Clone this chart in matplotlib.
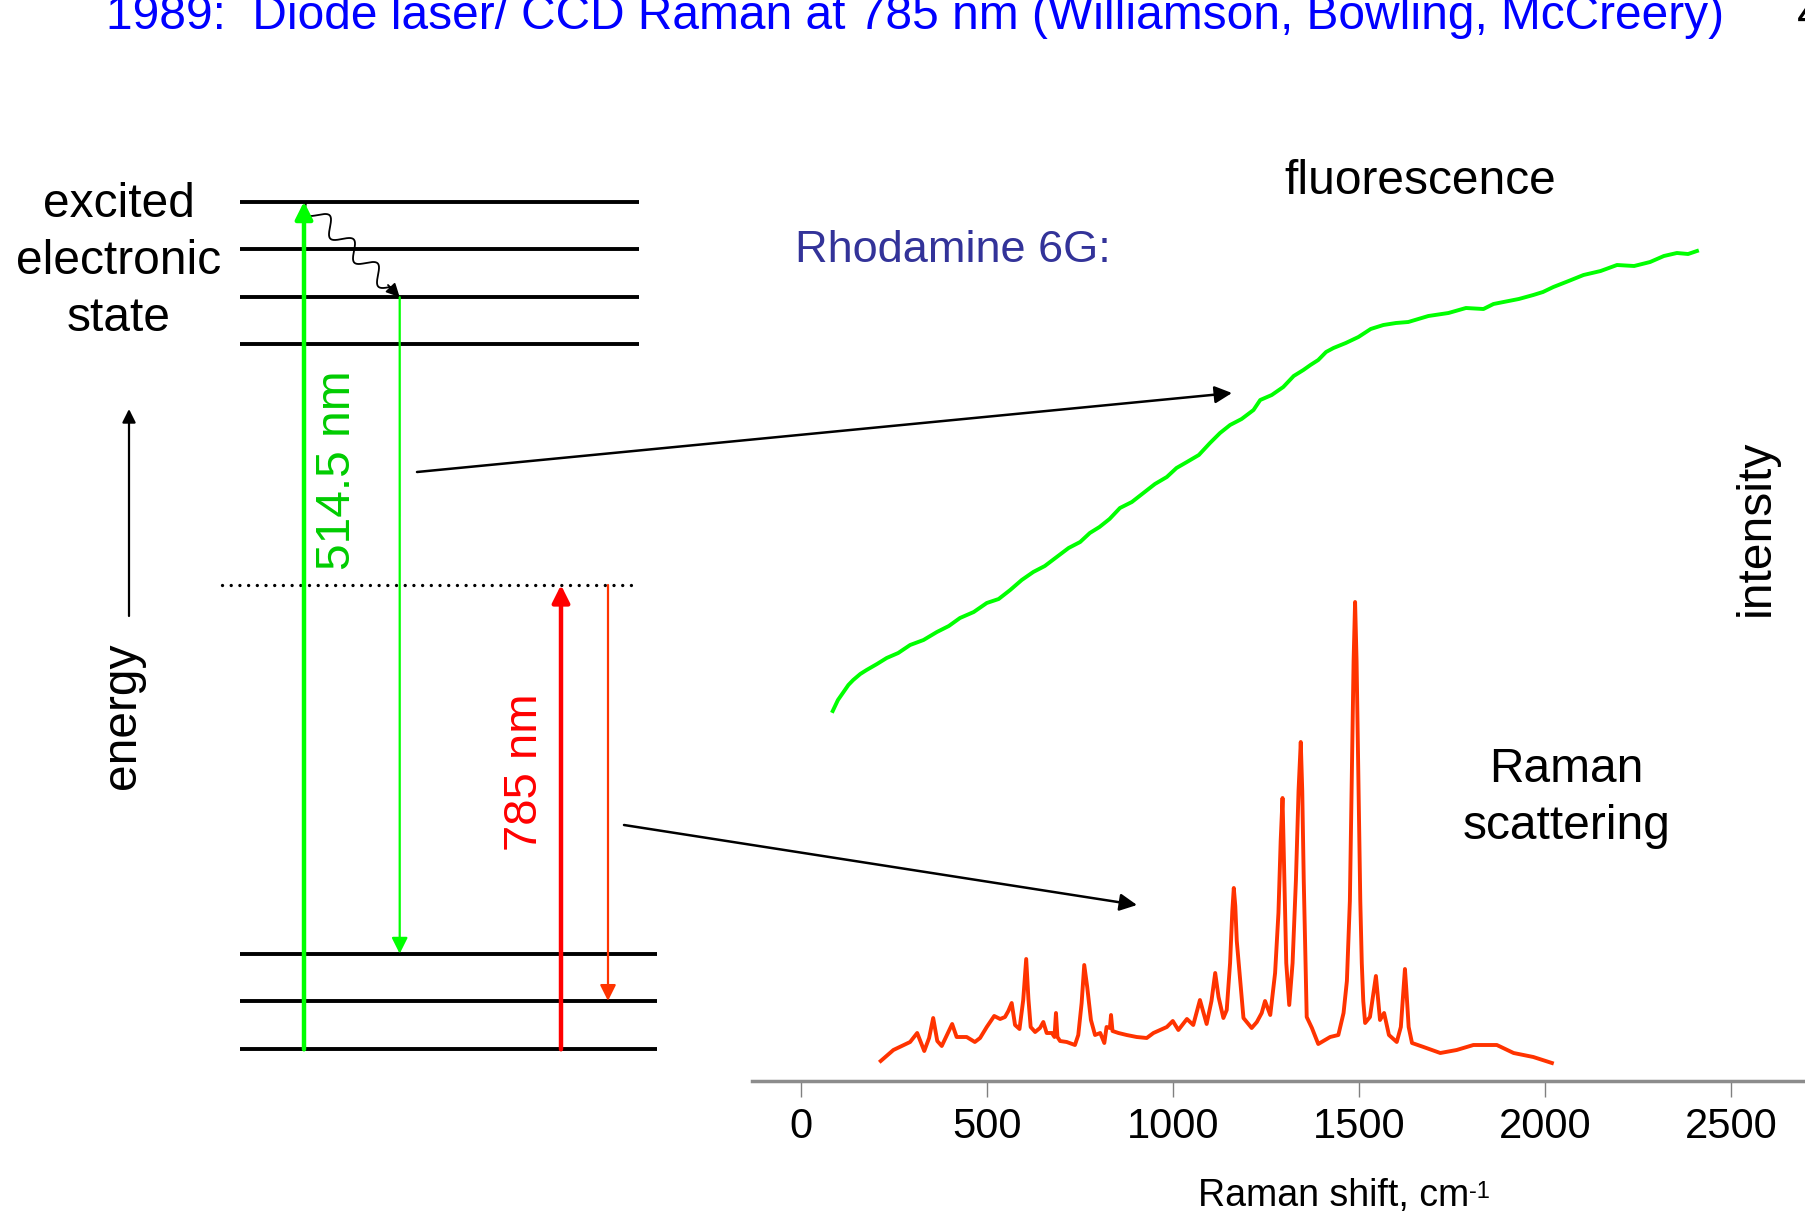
import numpy as np
import matplotlib.pyplot as plt

plt.rcParams['font.family'] = ['Liberation Sans', 'DejaVu Sans']

# Rhodamine 6G, Raman spectrum with 785 nm excitation
raman_shift = [215, 249, 294, 313, 332, 345, 356, 367, 379, 407, 419, 446, 468, 482,
               500, 520, 536, 549, 558, 567, 576, 588, 598, 606, 612, 618, 630, 643,
               652, 661, 675, 682, 686, 690, 697, 715, 737, 746, 755, 762, 770, 780,
               791, 805, 816, 822, 831, 834, 838, 854, 876, 903, 930, 948, 984, 1000,
               1015, 1038, 1055, 1073, 1091, 1104, 1114, 1123, 1136, 1145, 1154, 1160,
               1164, 1168, 1172, 1181, 1190, 1212, 1226, 1239, 1248, 1262, 1275, 1284,
               1290, 1295, 1300, 1305, 1313, 1322, 1331, 1338, 1344, 1348, 1352, 1360,
               1374, 1391, 1423, 1445, 1459, 1468, 1476, 1481, 1486, 1490, 1494, 1499,
               1504, 1508, 1512, 1517, 1530, 1546, 1557, 1568, 1581, 1602, 1613, 1620,
               1624, 1628, 1634, 1643, 1674, 1719, 1763, 1808, 1871, 1916, 1969, 2019]
raman_int = [20, 31, 39, 48, 30, 43, 63, 40, 35, 57, 44, 44, 39, 43,
             54, 65, 62, 64, 70, 78, 56, 52, 81, 122, 82, 54, 49, 53,
             59, 48, 48, 44, 68, 44, 40, 39, 36, 46, 78, 116, 94, 61,
             46, 48, 38, 54, 53, 66, 50, 48, 46, 44, 43, 48, 54, 60,
             51, 62, 56, 81, 57, 80, 108, 84, 63, 71, 118, 170,
             193, 175, 140, 101, 63, 53, 59, 68, 80, 66, 108, 168,
             240, 283, 200, 118, 76, 118, 201, 290, 339, 290, 201, 64,
             53, 37, 44, 46, 68, 100, 180, 301, 420, 479, 420, 301,
             180, 118, 80, 58, 64, 105, 61, 68, 46, 39, 54, 90,
             112, 90, 54, 38, 34, 28, 31, 36, 36, 28, 24, 18]

# fluorescence background with 514.5 nm excitation
fluor_shift = [86, 100, 115, 128, 141, 160, 177, 205, 231, 262, 294, 330, 366, 398,
               428, 465, 500, 532, 563, 594, 625, 656, 688, 720, 751, 777, 803, 830,
               858, 890, 921, 952, 984, 1010, 1038, 1070, 1100, 1127, 1154, 1185, 1217,
               1235, 1266, 1297, 1325, 1351, 1370, 1391, 1412, 1432, 1465, 1499, 1532,
               1566, 1600, 1633, 1687, 1741, 1788, 1835, 1862, 1889, 1930, 1969, 1995,
               2023, 2064, 2104, 2150, 2194, 2240, 2283, 2320, 2355, 2385, 2409]
fluor_int = [370, 381, 389, 396, 401, 407, 411, 417, 423, 428, 436, 441, 449, 455,
             463, 469, 478, 482, 491, 501, 509, 515, 524, 533, 539, 548, 554, 562,
             573, 579, 588, 597, 604, 613, 619, 626, 638, 648, 656, 662, 671,
             681, 686, 694, 705, 711, 716, 721, 729, 733, 738, 744, 752,
             756, 758, 759, 765, 768, 773, 772, 777, 779, 782, 786, 789,
             794, 800, 806, 810, 816, 815, 819, 825, 828, 827, 830]

tick_values = [0, 500, 1000, 1500, 2000, 2500]

W, H = 1806, 1213
fig = plt.figure(figsize=(W / 100, H / 100), dpi=100)

# spectrum panel
ax = fig.add_axes([752 / W, 132 / H, 1 - 752 / W, 900 / H])
ax.plot(fluor_shift, fluor_int, color='#00ff00', lw=2.8)
ax.plot(raman_shift, raman_int, color='#ff3300', lw=2.8)
ax.set_xlim(-131, 2702)
ax.set_ylim(0, 900)
for s in ['top', 'right', 'left']:
    ax.spines[s].set_visible(False)
ax.spines['bottom'].set_color('#8c8c8c')
ax.spines['bottom'].set_linewidth(2.5)
ax.set_yticks([])
ax.set_xticks(tick_values)
ax.tick_params(axis='x', direction='out', length=11.5, width=1, color='#808080',
               labelsize=30, pad=7.5)
ax.patch.set_alpha(0)

# overlay in pixel coordinates for the energy diagram and labels
ax0 = fig.add_axes([0, 0, 1, 1])
ax0.set_xlim(0, W)
ax0.set_ylim(H, 0)
ax0.axis('off')

fs = 34.5

ax0.text(106, 29, '1989:  Diode laser/ CCD Raman at 785 nm (Williamson, Bowling, McCreery)',
         color='#0000ff', fontsize=fs, va='baseline', ha='left')
ax0.text(1797, 29, '4', color='black', fontsize=fs, va='baseline', ha='left')

# energy levels
ax0.hlines([201.6, 248.8, 297.2, 344.4], 240, 639, color='black', lw=2.8)
ax0.hlines([953.7, 1000.9, 1049.3], 240, 657, color='black', lw=2.8)
ax0.plot([222, 635], [585, 585], color='black', lw=2.4, linestyle=(0, (0.01, 2.6)),
         dash_capstyle='round')


def arrow(x0, y0, x1, y1, color, lw, ms):
    ax0.annotate('', xy=(x1, y1), xytext=(x0, y0),
                 arrowprops=dict(arrowstyle='-|>', color=color, lw=lw,
                                 mutation_scale=ms, shrinkA=0, shrinkB=0))


arrow(304, 1049.3, 304, 201.6, '#00ff00', 3.2, 26)
arrow(399.7, 297.2, 399.7, 953.7, '#00ff00', 1.6, 24)
arrow(561, 1049.3, 561, 585, '#ff0000', 3.2, 26)
arrow(608, 585, 608, 1000.9, '#ff3300', 1.6, 24)
arrow(129, 616, 129, 409, 'black', 1.6, 20)
arrow(417, 472, 1232, 393, 'black', 1.8, 26)
arrow(624, 825, 1137, 905, 'black', 1.8, 26)

# wavy relaxation arrow
xa, ya, xb, yb = 306, 203, 390, 287
t = np.linspace(0, 1, 300)
L = np.hypot(xb - xa, yb - ya)
ux, uy = (xb - xa) / L, (yb - ya) / L
wave = 8 * np.sin(2 * np.pi * 3.5 * t)
ax0.plot(xa + ux * L * t - uy * wave, ya + uy * L * t + ux * wave, color='black', lw=1.3)
arrow(388, 285, 399.7, 297.2, 'black', 1.3, 20)

ax0.text(118.6, 261.5, 'excited\nelectronic\nstate', ha='center', va='center',
         fontsize=fs, linespacing=1.33)
ax0.text(123, 716, 'energy', rotation=90, ha='center', va='center', fontsize=fs)
ax0.text(338, 470, '514.5 nm', rotation=90, ha='center', va='center', fontsize=fs,
         color='#00cc00')
ax0.text(525, 771.7, '785 nm', rotation=90, ha='center', va='center', fontsize=34,
         color='#ff0000')

ax0.text(1420, 181, 'fluorescence', ha='center', va='center', fontsize=fs)
ax0.text(795, 251, 'Rhodamine 6G:', ha='left', va='center', fontsize=32.5,
         color='#333399')
ax0.text(1566.5, 798, 'Raman\nscattering', ha='center', va='center', fontsize=fs,
         linespacing=1.33)
ax0.text(1756.5, 527.5, 'intensity', rotation=90, ha='center', va='center', fontsize=fs)

xl = ax0.text(1198, 1196, 'Raman shift, cm', ha='left', va='center', fontsize=27)
ax0.annotate('-1', xy=(1.0, 0.92), xycoords=xl, ha='left', va='top', fontsize=17)

fig.savefig('out.png', dpi=100)
